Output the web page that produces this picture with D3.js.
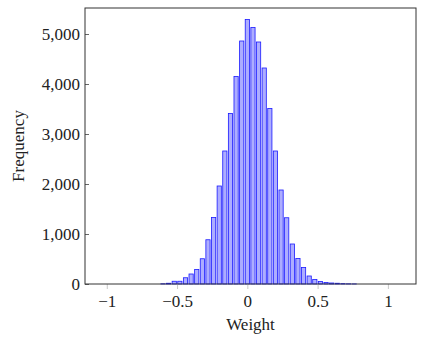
<!DOCTYPE html>
<html>
<head>
<meta charset="utf-8">
<script src="https://cdn.jsdelivr.net/npm/d3@7"></script>
<style>
  body { margin: 0; background: #fff; }
  text { font-family: "Liberation Serif", "DejaVu Serif", serif; fill: #222; }
</style>
</head>
<body>
<div id="chart"></div>
<script>
// bin centres (step 0.04) and counts
const binCenters = d3.range(-25, 26).map(i => +(i * 0.04).toFixed(2));
const nonZero = [
  [-0.60, 5], [-0.56, 15], [-0.52, 55], [-0.48, 55], [-0.44, 125], [-0.40, 200],
  [-0.36, 290], [-0.32, 505], [-0.28, 885], [-0.24, 1330], [-0.20, 1960],
  [-0.16, 2660], [-0.12, 3410], [-0.08, 4150], [-0.04, 4860], [0, 5290],
  [0.04, 5130], [0.08, 4840], [0.12, 4320], [0.16, 3510], [0.20, 2660],
  [0.24, 1880], [0.28, 1325], [0.32, 800], [0.36, 510], [0.40, 330],
  [0.44, 160], [0.48, 90], [0.52, 50], [0.56, 30], [0.60, 20], [0.64, 15],
  [0.68, 8], [0.72, 4], [0.76, 2]
];
const counts = binCenters.map(c => {
  const f = nonZero.find(d => Math.abs(d[0] - c) < 1e-6);
  return f ? f[1] : 0;
});
const xTicks = [-1, -0.5, 0, 0.5, 1];
const yTicks = [0, 1000, 2000, 3000, 4000, 5000];

const data = binCenters.map((c, i) => ({ x: c, value: counts[i] }));

const margin = { top: 8, right: 9, bottom: 66, left: 85 },
      width = 425 - margin.left - margin.right,
      height = 350 - margin.top - margin.bottom;

const svg = d3.select("#chart").append("svg")
    .attr("width", 425)
    .attr("height", 350)
  .append("g")
    .attr("transform", `translate(${margin.left},${margin.top})`);

const x = d3.scaleLinear().domain([-1.155, 1.2]).range([0, width]);
const y = d3.scaleLinear().domain([0, 5520]).range([height, 0]);

const barW = x(0.03) - x(0);

// bars
svg.selectAll(".bar")
  .data(data)
  .enter().append("rect")
    .attr("class", "bar")
    .attr("x", d => x(d.x) - barW / 2)
    .attr("y", d => y(d.value))
    .attr("width", barW)
    .attr("height", d => y(0) - y(d.value))
    .attr("fill", "#adadff")
    .attr("stroke", "#1a1aff")
    .attr("stroke-width", 0.8);

// X axis
const xAxis = svg.append("g")
    .attr("transform", `translate(0,${height})`)
    .call(d3.axisBottom(x).tickValues(xTicks).tickSize(5).tickPadding(6)
      .tickFormat(d => d3.format("")(d).replace("-", "\u2212")));
xAxis.select(".domain").remove();
xAxis.selectAll(".tick line").attr("stroke", "#c8c8c8");
xAxis.selectAll("text").attr("font-size", 17);

// Y axis
const yAxis = svg.append("g")
    .call(d3.axisLeft(y).tickValues(yTicks).tickSize(-4).tickPadding(5)
      .tickFormat(d3.format(",")));
yAxis.select(".domain").remove();
yAxis.selectAll(".tick line").attr("stroke", "#666");
yAxis.selectAll("text").attr("font-size", 17).attr("x", -5);

// frame
svg.append("rect")
    .attr("x", 0).attr("y", 0)
    .attr("width", width).attr("height", height)
    .attr("fill", "none")
    .attr("stroke", "#333")
    .attr("stroke-width", 1);

// labels
svg.append("text")
    .attr("x", width / 2)
    .attr("y", height + 46)
    .attr("text-anchor", "middle")
    .attr("font-size", 17)
    .text("Weight");

svg.append("text")
    .attr("transform", `translate(${-61},${height / 2}) rotate(-90)`)
    .attr("text-anchor", "middle")
    .attr("font-size", 17)
    .text("Frequency");
</script>
</body>
</html>
